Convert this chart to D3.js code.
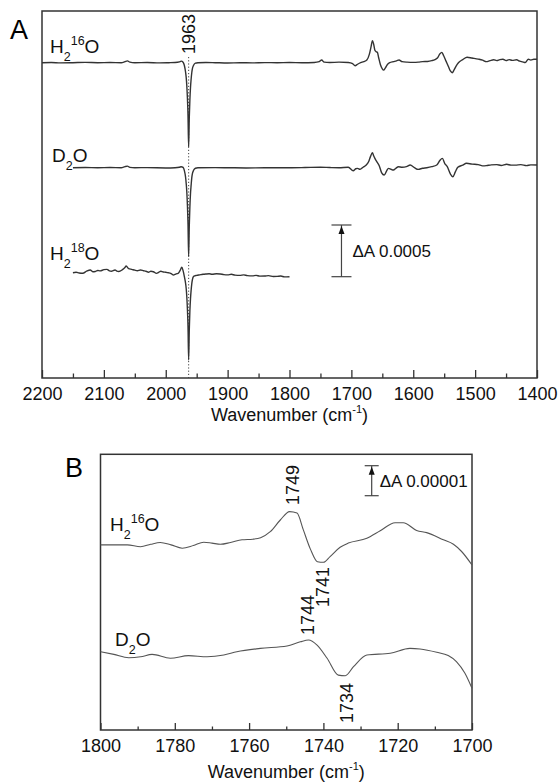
<!DOCTYPE html>
<html>
<head>
<meta charset="utf-8">
<script src="https://cdn.jsdelivr.net/npm/d3@7"></script>
<style>
  body { margin: 0; background: #fff; }
  svg { display: block; font-family: 'Liberation Sans', Arial, sans-serif; }
</style>
</head>
<body>
<svg width="558" height="783"></svg>
<script>
// ////////////////////////////////////////////////////////////// data //
// Panel A: [wavenumber, dA in 1e-4 units relative to own baseline]
const h16A = [
  [2200, 0], [2185, 0.02], [2170, -0.02], [2150, 0], [2130, 0.03], [2110, 0],
  [2090, 0.02], [2072, 0], [2066, 0.1], [2062, 0.18], [2058, 0.05], [2050, 0],
  [2030, 0.02], [2010, -0.02], [1995, 0], [1985, 0.02], [1978, 0.08], [1975, 0.15],
  [1972, 0.05], [1970, -0.25], [1968, -0.9], [1967, -1.4], [1966, -2.2], [1965, -3.4],
  [1964, -5.2], [1963, -8.15], [1962, -5.4], [1961, -3.6], [1960, -2.4], [1959, -1.6],
  [1958, -1.0], [1957, -0.6], [1955, -0.25], [1952, -0.05], [1948, 0], [1935, 0.02],
  [1920, 0], [1900, -0.03], [1880, 0], [1860, -0.02], [1840, 0.01], [1820, 0],
  [1800, 0.02], [1780, 0], [1760, 0.02], [1752, 0.1], [1748, 0.26], [1744, 0.05],
  [1735, 0.02], [1720, 0.05], [1705, 0.02], [1698, -0.1], [1694, -0.29], [1690, -0.15],
  [1685, 0], [1680, 0.1], [1675, 0.26], [1671, 0.8], [1668, 1.6], [1666, 2.13],
  [1664, 1.8], [1662, 1.2], [1660, 1.06], [1658, 1.0], [1656, 0.5], [1653, -0.2],
  [1650, -0.6], [1648, -0.72], [1645, -0.5], [1642, -0.2], [1638, 0], [1632, 0.1],
  [1627, 0.18], [1623, 0.26], [1618, 0.1], [1610, 0.05], [1600, 0.03], [1592, 0.05],
  [1585, 0.1], [1577, 0.12], [1570, 0.2], [1565, 0.3], [1561, 0.45], [1557, 0.85],
  [1554, 1.0], [1551, 0.7], [1547, 0.15], [1543, -0.4], [1540, -0.8], [1537, -0.97],
  [1534, -0.7], [1531, -0.35], [1527, 0], [1520, 0.3], [1513, 0.53], [1505, 0.45],
  [1495, 0.35], [1488, 0.25], [1482, 0.1], [1476, 0.2], [1470, 0.28], [1465, 0.2],
  [1460, 0.3], [1455, 0.33], [1450, 0.2], [1445, 0.3], [1440, 0.22], [1433, 0.28],
  [1428, 0.15], [1422, 0.05], [1419, 0.02], [1414, 0.33], [1410, 0.25], [1405, 0.33],
  [1400, 0.33],
];

const d2oA = [
  [2150, 0], [2130, 0.02], [2110, 0], [2090, 0.02], [2072, 0], [2066, 0.1],
  [2062, 0.15], [2058, 0.03], [2050, 0], [2030, 0.01], [2000, -0.02], [1985, 0],
  [1978, 0.05], [1975, 0.1], [1972, 0.03], [1970, -0.25], [1968, -0.9], [1967, -1.5],
  [1966, -2.3], [1965, -3.6], [1964, -5.5], [1963, -8.6], [1962, -5.7], [1961, -3.8],
  [1960, -2.5], [1959, -1.7], [1958, -1.0], [1957, -0.6], [1955, -0.25], [1952, -0.05],
  [1948, 0], [1920, 0.01], [1900, 0], [1870, -0.02], [1840, 0], [1800, 0],
  [1775, 0.02], [1750, 0.05], [1735, 0.02], [1720, 0], [1705, 0.05], [1697, -0.29],
  [1693, -0.1], [1690, -0.06], [1686, -0.16], [1681, 0.05], [1676, 0.26], [1672, 0.6],
  [1669, 1.1], [1666, 1.45], [1664, 1.15], [1662, 0.9], [1659, 0.6], [1655, 0.2],
  [1651, -0.5], [1647, -0.71], [1643, -0.3], [1640, -0.06], [1636, -0.15], [1632, -0.22],
  [1628, -0.05], [1624, 0.1], [1618, 0.05], [1611, 0.1], [1605, 0.26], [1598, 0],
  [1592, -0.16], [1585, -0.05], [1578, 0], [1570, 0.1], [1562, 0.26], [1557, 0.7],
  [1553, 0.9], [1549, 0.4], [1545, 0.1], [1540, -0.6], [1536, -0.87], [1532, -0.4],
  [1528, 0.04], [1520, 0.25], [1514, 0.43], [1505, 0.35], [1495, 0.3], [1488, 0.18],
  [1482, 0.2], [1474, 0.28], [1465, 0.3], [1458, 0.22], [1449, 0.33], [1442, 0.25],
  [1435, 0.25], [1426, 0.3], [1417, 0.2], [1410, 0.28], [1400, 0.26],
];

const h18A = [
  [2150, -0.1], [2145, -0.05], [2140, -0.12], [2134, -0.15], [2128, 0.05], [2122, 0.17],
  [2118, 0], [2114, 0.02], [2110, 0.12], [2106, 0.08], [2100, 0.2], [2095, 0.23],
  [2091, 0.08], [2088, 0.05], [2082, 0.17], [2079, 0.05], [2076, 0.02], [2070, 0.2],
  [2066, 0.4], [2064, 0.55], [2060, 0.3], [2055, 0.23], [2050, 0.15], [2046, 0.1],
  [2041, 0.16], [2036, 0.1], [2032, 0.05], [2028, -0.05], [2024, 0.05], [2020, 0],
  [2015, -0.16], [2011, -0.05], [2008, 0.05], [2004, -0.03], [2000, -0.05], [1996, -0.1],
  [1992, -0.15], [1988, -0.32], [1983, -0.2], [1980, -0.15], [1977, 0.1], [1974, 0.44],
  [1972, 0.1], [1970, -0.45], [1968, -1.1], [1967, -1.6], [1966, -2.4], [1965, -3.6],
  [1964, -5.4], [1963, -8.54], [1962, -5.7], [1961, -3.8], [1960, -2.6], [1959, -1.8],
  [1958, -1.2], [1957, -0.8], [1955, -0.45], [1950, -0.35], [1945, -0.3], [1940, -0.25],
  [1935, -0.22], [1930, -0.2], [1925, -0.25], [1918, -0.2], [1912, -0.22], [1906, -0.28],
  [1900, -0.3], [1894, -0.25], [1888, -0.33], [1880, -0.35], [1874, -0.3], [1868, -0.38],
  [1860, -0.4], [1854, -0.35], [1848, -0.43], [1840, -0.42], [1834, -0.38], [1826, -0.46],
  [1820, -0.45], [1814, -0.42], [1808, -0.5], [1800, -0.48],
];

// Panel B: [wavenumber, dA in 1e-5 units relative to own baseline]
const h16B = [
  [1800, 0], [1796.5, 0], [1792.8, 0], [1789.2, -0.06], [1786.5, 0.02], [1783.9, 0.08],
  [1781, 0], [1778, -0.11], [1775, -0.02], [1772.2, 0.09], [1770, 0.06], [1767.7, 0.02],
  [1765, 0.08], [1761.9, 0.17], [1759, 0.19], [1756.9, 0.24], [1754.3, 0.44], [1751.6, 0.83],
  [1749.1, 1.11], [1747.1, 1.06], [1745.4, 0.5], [1743.5, -0.14], [1741.6, -0.56], [1740, -0.58],
  [1738.2, -0.39], [1735.5, -0.08], [1733.3, 0.06], [1728.3, 0.22], [1724.7, 0.47], [1720.7, 0.74],
  [1718.5, 0.74], [1714.9, 0.48], [1712.2, 0.41], [1707.7, 0.17], [1705, 0.02], [1702.8, -0.22],
  [1700, -0.67],
];

const d2oB = [
  [1800, 0], [1796.4, -0.09], [1792.4, -0.2], [1789.2, -0.17], [1786.1, -0.09], [1781.2, -0.22],
  [1776.3, -0.13], [1771.3, -0.17], [1766.8, -0.11], [1763.3, 0], [1757, 0.11], [1749.8, 0.19],
  [1746.2, 0.33], [1744, 0.39], [1741.7, 0.22], [1739, -0.22], [1736, -0.78], [1734.1, -0.8],
  [1731.9, -0.5], [1728.3, -0.11], [1722, -0.05], [1716.7, 0.11], [1714, 0.09], [1709.5, -0.02],
  [1706.4, -0.13], [1704.2, -0.33], [1701.9, -0.72], [1700, -1.22],
];

const ticksA = [2200, 2100, 2000, 1900, 1800, 1700, 1600, 1500, 1400];
const minorA = [2150, 2050, 1950, 1850, 1750, 1650, 1550, 1450];
const ticksB = [1800, 1780, 1760, 1740, 1720, 1700];
const minorB = [1790, 1770, 1750, 1730, 1710];

// ////////////////////////////////////////////////////////////// setup //
const svg = d3.select('svg');
const ink = '#333';

const xA = d3.scaleLinear().domain([2200, 1400]).range([42, 537]);
const yA = d3.scaleLinear().domain([0, 35.5]).range([378, 11]);
const xB = d3.scaleLinear().domain([1800, 1700]).range([100.5, 472]);
const yB = d3.scaleLinear().domain([0, 9.19]).range([730, 454.3]);

// a formula like H2 16O: parts are [text, 'sub' | 'sup' | undefined]
const formula = (x, y, parts) => {
  const t = svg.append('text').attr('x', x).attr('y', y)
      .attr('font-size', 19).attr('fill', '#111');
  let shift = 0;
  parts.forEach(([s, pos]) => {
    const target = pos === 'sub' ? 8 : pos === 'sup' ? -8 : 0;
    t.append('tspan')
        .attr('dy', target - shift)
        .attr('font-size', pos ? 12.5 : 19)
        .text(s);
    shift = target;
  });
};

const drawPanel = (x, y, ticks, minor, major, small, letter, titleGap) => {
  const [x0, x1] = x.range();
  const [y0, y1] = y.range();

  const axis = svg.append('g')
      .attr('transform', `translate(0,${y0})`)
      .call(d3.axisBottom(x).tickValues(ticks).tickSize(-major)
          .tickSizeOuter(0).tickPadding(9).tickFormat(d3.format('d')));
  axis.select('.domain').remove();
  axis.selectAll('line').attr('stroke', ink).attr('stroke-width', 1.3);
  axis.selectAll('text').attr('font-size', 18)
      .attr('font-family', 'Liberation Sans, Arial, sans-serif').attr('fill', '#111');

  const minorAxis = svg.append('g')
      .attr('transform', `translate(0,${y0})`)
      .call(d3.axisBottom(x).tickValues(minor).tickSize(-small)
          .tickSizeOuter(0).tickFormat(''));
  minorAxis.select('.domain').remove();
  minorAxis.selectAll('line').attr('stroke', ink).attr('stroke-width', 1.3);

  svg.append('rect')
      .attr('x', x0).attr('y', y1)
      .attr('width', x1 - x0).attr('height', y0 - y1)
      .attr('fill', 'none').attr('stroke', ink).attr('stroke-width', 1.5);

  const title = svg.append('text')
      .attr('x', (x0 + x1) / 2).attr('y', y0 + titleGap)
      .attr('text-anchor', 'middle').attr('font-size', 18).attr('fill', '#111');
  title.append('tspan').text('Wavenumber (cm');
  title.append('tspan').attr('dy', -8).attr('font-size', 11).text('-1');
  title.append('tspan').attr('dy', 8).text(')');

  svg.append('text')
      .attr('x', letter[0]).attr('y', letter[1])
      .attr('font-size', 27).attr('fill', '#000').text(letter[2]);
};

const drawTrace = (data, x, y, offset, color, width) => {
  const line = d3.line()
      .x((d) => x(d[0]))
      .y((d) => y(d[1] + offset))
      .curve(d3.curveMonotoneX);
  svg.append('path')
      .datum(data)
      .attr('d', line)
      .attr('fill', 'none')
      .attr('stroke', color)
      .attr('stroke-width', width)
      .attr('stroke-linejoin', 'round');
};

const scaleBar = (x, y, wn, from, size, half, label) => {
  const cx = x(wn);
  const yb = y(from);
  const yt = y(from + size);
  const g = svg.append('g').attr('stroke', '#444').attr('stroke-width', 1.2);
  g.append('line').attr('x1', cx).attr('x2', cx).attr('y1', yt).attr('y2', yb);
  g.append('line').attr('x1', cx - half).attr('x2', cx + half).attr('y1', yt).attr('y2', yt);
  g.append('line').attr('x1', cx - half).attr('x2', cx + half).attr('y1', yb).attr('y2', yb);
  svg.append('path')
      .attr('d', `M${cx},${yt + 1}L${cx - 3},${yt + 9}L${cx + 3},${yt + 9}Z`)
      .attr('fill', '#111');
  svg.append('text')
      .attr('x', cx + half + 1).attr('y', (yt + yb) / 2).attr('dy', '0.35em')
      .attr('font-size', 17).attr('fill', '#111').text(label);
};

// vertical peak label: above = text grows upward from y, else downward
const peakLabel = (cx, y, label, above) => {
  svg.append('text')
      .attr('transform', `translate(${cx},${y}) rotate(-90)`)
      .attr('dy', '0.35em')
      .attr('text-anchor', above ? 'start' : 'end')
      .attr('font-size', 18).attr('fill', '#111')
      .text(label);
};

// ////////////////////////////////////////////////////////////// panel A //
drawPanel(xA, yA, ticksA, minorA, 8, 4.5, [10, 39, 'A'], 43);

svg.append('line')
    .attr('x1', xA(1963)).attr('x2', xA(1963))
    .attr('y1', 57).attr('y2', yA(0))
    .attr('stroke', '#444').attr('stroke-width', 1)
    .attr('stroke-dasharray', '1.2,2');

drawTrace(h16A, xA, yA, 30.5, ink, 1.4);
drawTrace(d2oA, xA, yA, 20.34, ink, 1.4);
drawTrace(h18A, xA, yA, 10.28, ink, 1.4);

formula(50, 53, [['H'], ['2', 'sub'], ['16', 'sup'], ['O']]);
formula(52, 162, [['D'], ['2', 'sub'], ['O']]);
formula(50, 260, [['H'], ['2', 'sub'], ['18', 'sup'], ['O']]);

peakLabel(xA(1963), 54, '1963', true);
scaleBar(xA, yA, 1716, 9.8, 5, 10, 'ΔA 0.0005');

// ////////////////////////////////////////////////////////////// panel B //
drawPanel(xB, yB, ticksB, minorB, 7, 3.5, [65, 477, 'B'], 48);

drawTrace(h16B, xB, yB, 6.17, '#555', 1.1);
drawTrace(d2oB, xB, yB, 2.61, '#555', 1.1);

formula(110, 531, [['H'], ['2', 'sub'], ['16', 'sup'], ['O']]);
formula(115, 646, [['D'], ['2', 'sub'], ['O']]);

peakLabel(xB(1749) + 3, 505, '1749', true);
peakLabel(xB(1741) + 3, 567, '1741', false);
peakLabel(xB(1744) - 1, 635, '1744', true);
peakLabel(xB(1734.5) + 3, 683, '1734', false);

scaleBar(xB, yB, 1727, 7.81, 1, 7, 'ΔA 0.00001');
</script>
</body>
</html>
